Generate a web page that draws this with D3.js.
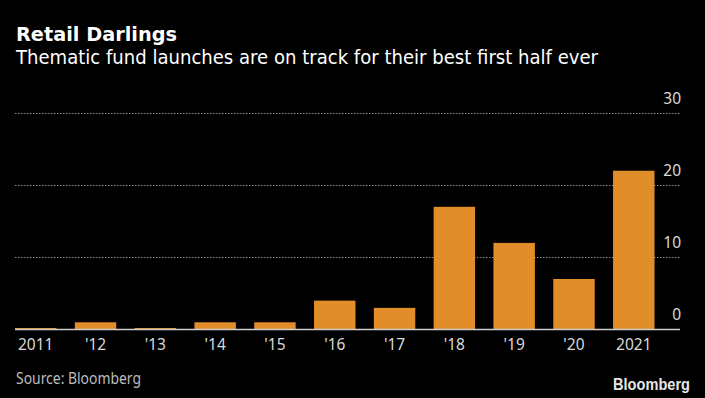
<!DOCTYPE html>
<html>
<head>
<meta charset="utf-8">
<script src="https://cdn.jsdelivr.net/npm/d3@7"></script>
<style>
  html, body { margin: 0; padding: 0; background: #000; }
  svg { display: block; }
</style>
</head>
<body>
<svg id="chart" width="705" height="398"></svg>
<script>
const categories = ["2011", "'12", "'13", "'14", "'15", "'16", "'17", "'18", "'19", "'20", "2021"];
const launches = [0, 1, 0, 1, 1, 4, 3, 17, 12, 7, 22];
const yTicks = [0, 10, 20, 30];
const title = "Retail Darlings";
const subtitle = "Thematic fund launches are on track for their best first half ever";
const source = "Source: Bloomberg";
const logo = "Bloomberg";

const svg = d3.select("#chart");
svg.append("rect").attr("width", 705).attr("height", 398).attr("fill", "#000");

const font = "'Noto Sans', 'Open Sans', 'DejaVu Sans', sans-serif";
const headFont = "'DejaVu Sans', 'Noto Sans', sans-serif";

const x = d3.scaleBand().domain(categories).range([15, 654.5]).paddingInner(0.307).paddingOuter(0);
const y = d3.scaleLinear().domain([0, 30]).range([329.5, 113]);

// gridlines
const grid = svg.append("g");
grid.selectAll("line").data(yTicks.filter(t => t > 0)).join("line")
  .attr("x1", 15).attr("x2", 680)
  .attr("y1", d => Math.round(y(d)) + 0.5).attr("y2", d => Math.round(y(d)) + 0.5)
  .attr("stroke", "#8a8a8a").attr("stroke-width", 1).attr("stroke-dasharray", "1.5,1.5");

// y labels via axis
const yAxis = d3.axisRight(y).tickValues(yTicks).tickSize(0).tickPadding(0);
const yg = svg.append("g").attr("transform", "translate(681,0)").call(yAxis);
yg.select(".domain").remove();
yg.selectAll("text")
  .attr("text-anchor", "end").attr("x", 0).attr("dy", "-10")
  .attr("dominant-baseline", "auto")
  .attr("fill", "#d9d9d9").style("font-family", font).style("font-size", "15.5px");

// bars
svg.append("g").selectAll("rect").data(categories).join("rect")
  .attr("x", d => x(d))
  .attr("width", x.bandwidth())
  .attr("y", (d, i) => Math.min(y(launches[i]), y(0) - 1.5))
  .attr("height", (d, i) => Math.max(y(0) - y(launches[i]), 1.5))
  .attr("fill", "#e08d2a");

// baseline
svg.append("line").attr("x1", 15).attr("x2", 680).attr("y1", y(0)).attr("y2", y(0))
  .attr("stroke", "#cfcfcf").attr("stroke-width", 1.6);

// x axis labels
const xAxis = d3.axisBottom(x).tickSize(0).tickPadding(0);
const xg = svg.append("g").attr("transform", "translate(0,350)").call(xAxis);
xg.select(".domain").remove();
xg.selectAll("text").attr("y", 0).attr("dy", 0)
  .attr("fill", "#d9d9d9").style("font-family", font).style("font-size", "15.5px");

// titles
svg.append("text").attr("x", 16).attr("y", 40.5).text(title)
  .attr("fill", "#fff").style("font-family", headFont).style("font-weight", "bold").style("font-size", "19px")
  .attr("textLength", 161).attr("lengthAdjust", "spacingAndGlyphs");
svg.append("text").attr("x", 16).attr("y", 64).text(subtitle)
  .attr("fill", "#fff").style("font-family", headFont).style("font-size", "19.5px")
  .attr("textLength", 582).attr("lengthAdjust", "spacingAndGlyphs");

// source
svg.append("text").attr("x", 16).attr("y", 384).text(source)
  .attr("fill", "#bdbdbd").style("font-family", font).style("font-size", "16.5px")
  .attr("textLength", 125).attr("lengthAdjust", "spacingAndGlyphs");

// logo
svg.append("text").attr("x", 690).attr("y", 390).attr("text-anchor", "end").text(logo)
  .attr("fill", "#e6e6e6").style("font-family", "'Liberation Sans', Arial, sans-serif").style("font-weight", "bold").style("font-size", "16.5px")
  .attr("textLength", 77).attr("lengthAdjust", "spacingAndGlyphs");
</script>
</body>
</html>
